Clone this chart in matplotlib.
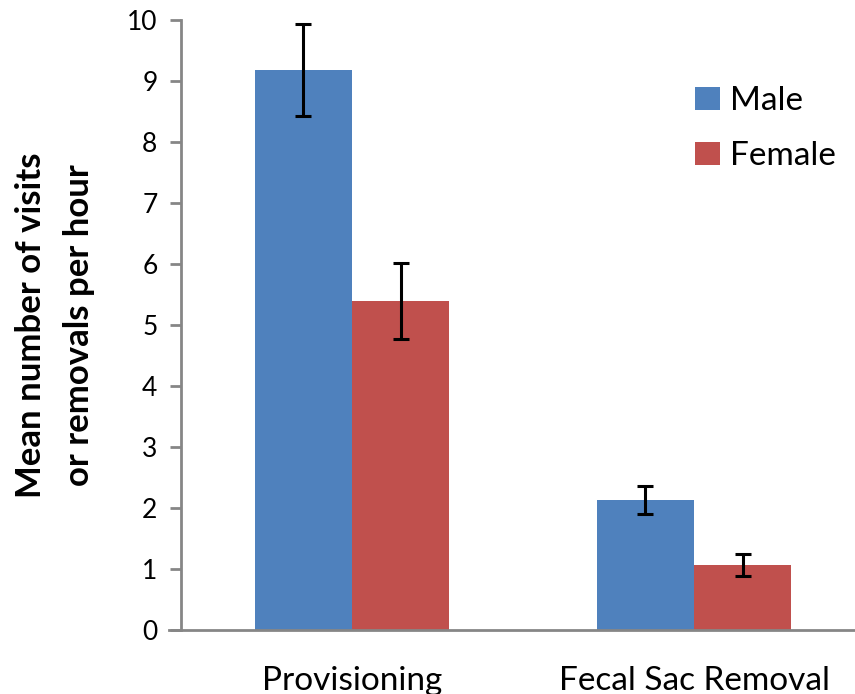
import numpy as np
import matplotlib.pyplot as plt

categories = ["Provisioning", "Fecal Sac Removal"]
male = [9.18, 2.13]
female = [5.39, 1.06]
male_err = [0.75, 0.23]
female_err = [0.62, 0.18]

plt.rcParams['font.family'] = ['Lato', 'DejaVu Sans']

fig = plt.figure(figsize=(8.55, 6.94), dpi=100)
ax = fig.add_axes([181 / 855, 64 / 694, 0.8, 610 / 694])

x = np.arange(len(categories)) + 0.5
w = 0.285
ax.bar(x - w / 2, male, w, color='#4F81BD', label='Male')
ax.bar(x + w / 2, female, w, color='#C0504D', label='Female')
ekw = dict(fmt='none', ecolor='black', elinewidth=2.2, capsize=6, capthick=2.2)
ax.errorbar(x - w / 2, male, yerr=male_err, **ekw)
ax.errorbar(x + w / 2, female, yerr=female_err, **ekw)

ax.set_xlim(0, 2)
ax.set_ylim(0, 10)
ax.set_yticks(range(0, 11))
ax.set_xticks(x)
ax.set_xticklabels(categories, fontsize=24)
ax.tick_params(axis='x', length=0, pad=26)
ax.tick_params(axis='y', length=8, width=2, color='#868686', labelsize=19, pad=9)

for s in ['top', 'right']:
    ax.spines[s].set_visible(False)
for s in ['left', 'bottom']:
    ax.spines[s].set_color('#868686')
    ax.spines[s].set_linewidth(2)
ax.spines['bottom'].set_bounds(-0.035, 2)

ax.set_ylabel("Mean number of visits\nor removals per hour", fontsize=25,
              fontweight='bold', labelpad=23, linespacing=1.6)

leg = ax.legend(loc='upper left', bbox_to_anchor=(0.751, 0.892), frameon=False,
                fontsize=24, handlelength=0.75, handleheight=0.7,
                handletextpad=0.3, labelspacing=0.75, borderpad=0,
                borderaxespad=0)

fig.savefig('out.png', dpi=100)
